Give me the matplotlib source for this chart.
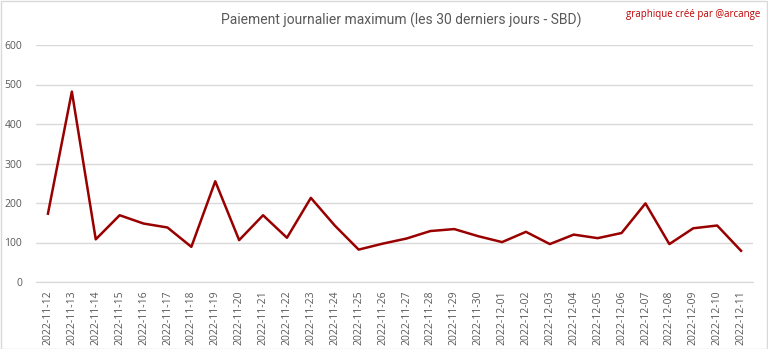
import matplotlib.pyplot as plt

# Dates and daily maximum payout (SBD)
dates = ['2022-11-12', '2022-11-13', '2022-11-14', '2022-11-15', '2022-11-16',
         '2022-11-17', '2022-11-18', '2022-11-19', '2022-11-20', '2022-11-21',
         '2022-11-22', '2022-11-23', '2022-11-24', '2022-11-25', '2022-11-26',
         '2022-11-27', '2022-11-28', '2022-11-29', '2022-11-30', '2022-12-01',
         '2022-12-02', '2022-12-03', '2022-12-04', '2022-12-05', '2022-12-06',
         '2022-12-07', '2022-12-08', '2022-12-09', '2022-12-10', '2022-12-11']
payout = [173, 482, 108, 169, 148, 138, 89, 255, 106, 169,
          112, 213, 143, 82, 97, 110, 129, 134, 116, 101,
          127, 96, 120, 111, 124, 199, 96, 136, 143, 79]

plt.rcParams['font.family'] = ['Open Sans', 'DejaVu Sans']

fig = plt.figure(figsize=(7.68, 3.49), dpi=100)
ax = fig.add_axes([36 / 768, 1 - 282 / 349, 717 / 768, 237 / 349])

x = range(len(dates))
ax.plot(x, payout, color='#990000', linewidth=1.8)

ax.set_xlim(-0.5, len(dates) - 0.5)
ax.set_ylim(0, 600)
ax.set_yticks(range(0, 601, 100))
ax.set_xticks(list(x))
ax.set_xticklabels(dates, rotation=90, fontsize=7.5, color='#595959')
ax.tick_params(axis='y', labelsize=7.5, labelcolor='#595959', length=0, pad=10)
ax.tick_params(axis='x', length=0, pad=6)
ax.grid(axis='y', color='#d9d9d9', linewidth=1)
ax.set_axisbelow(True)
for side in ['top', 'right', 'left']:
    ax.spines[side].set_visible(False)
ax.spines['bottom'].set_color('#d9d9d9')

fig.text(0.522, 1 - 20 / 349, 'Paiement journalier maximum (les 30 derniers jours - SBD)',
         ha='center', va='center', fontsize=10, color='#595959',
         family=['Roboto', 'DejaVu Sans'])
fig.text(1 - 8 / 768, 1 - 15 / 349, 'graphique créé par @arcange',
         ha='right', va='center', fontsize=7, color='#c00000')

# light frame around the chart
fig.patches.append(plt.Rectangle((0.5 / 768, 0.5 / 349), 1 - 1.5 / 768, 1 - 1.5 / 349,
                                 transform=fig.transFigure, fill=False,
                                 edgecolor='#d9d9d9', linewidth=1))

fig.savefig('out.png', dpi=100)
